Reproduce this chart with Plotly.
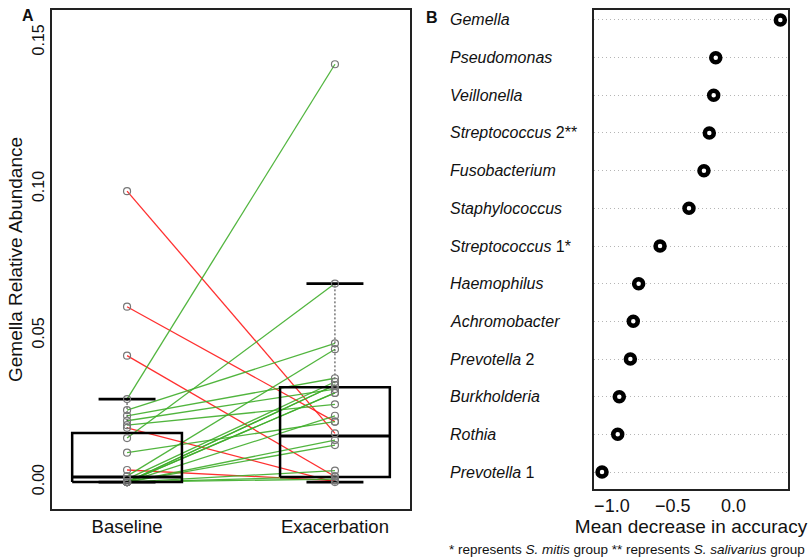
import plotly.graph_objects as go

# ---------------- Panel A data (paired samples) ----------------
groups = ["Baseline", "Exacerbation"]
baseline = [0.0992, 0.0598, 0.0431, 0.0185, 0.0041,
            0.0283, 0.0150, 0.0245, 0.0226, 0.0209, 0.0194, 0.0100,
            0.0020, 0.0010, 0.0, 0.0, 0.0, 0.0, 0.0, 0.0, 0.0, 0.0, 0.0, 0.0]
exacerbation = [0.0166, 0.0206, 0.0019, 0.0, 0.0005,
                0.1425, 0.0677, 0.0473, 0.0354, 0.0317, 0.0265, 0.0206,
                0.0453, 0.0342, 0.0331, 0.0304, 0.0226, 0.0143, 0.0126, 0.0039,
                0.0019, 0.0010, 0.0331, 0.0304]
# box statistics
box_q1 = [0.0, 0.0017]
box_med = [0.0017, 0.0157]
box_q3 = [0.0167, 0.0323]
whisk_lo = [0.0, 0.0]
whisk_hi = [0.0283, 0.0677]
a_yticks = [0.00, 0.05, 0.10, 0.15]

# ---------------- Panel B data ----------------
taxa = ["<i>Gemella</i>", "<i>Pseudomonas</i>", "<i>Veillonella</i>",
        "<i>Streptococcus</i> 2**", "<i>Fusobacterium</i>", "<i>Staphylococcus</i>",
        "<i>Streptococcus</i> 1*", "<i>Haemophilus</i>", "<i>Achromobacter</i>",
        "<i>Prevotella</i> 2", "<i>Burkholderia</i>", "<i>Rothia</i>", "<i>Prevotella</i> 1"]
mda = [0.385, -0.146, -0.163, -0.199, -0.243, -0.366, -0.604,
       -0.780, -0.824, -0.848, -0.939, -0.952, -1.081]
b_xticks = [-1.0, -0.5, 0.0]

FONT = "Liberation Sans, Arial, sans-serif"
GREEN = "#3fae2a"
RED = "#ff1a1a"
TXT = "#111111"

fig = go.Figure()

# paired lines
for b, e in zip(baseline, exacerbation):
    fig.add_trace(go.Scatter(
        x=[1, 2], y=[b, e], mode="lines",
        line=dict(color=RED if e < b else GREEN, width=1.3),
        opacity=0.9, showlegend=False, hoverinfo="skip",
        xaxis="x", yaxis="y"))

# boxes (R style)
half_box = 0.264
half_cap = 0.137
for i in range(2):
    xc = i + 1
    fig.add_trace(go.Scatter(
        x=[xc - half_box, xc + half_box, xc + half_box, xc - half_box, xc - half_box],
        y=[box_q1[i], box_q1[i], box_q3[i], box_q3[i], box_q1[i]],
        mode="lines", line=dict(color="black", width=2.5),
        showlegend=False, hoverinfo="skip", xaxis="x", yaxis="y"))
    fig.add_trace(go.Scatter(
        x=[xc - half_box, xc + half_box], y=[box_med[i], box_med[i]],
        mode="lines", line=dict(color="black", width=3),
        showlegend=False, hoverinfo="skip", xaxis="x", yaxis="y"))
    for y0, y1 in [(box_q3[i], whisk_hi[i]), (whisk_lo[i], box_q1[i])]:
        fig.add_trace(go.Scatter(
            x=[xc, xc], y=[y0, y1], mode="lines",
            line=dict(color="#333333", width=1, dash="2px,2px"),
            showlegend=False, hoverinfo="skip", xaxis="x", yaxis="y"))
    for yv in [whisk_hi[i], whisk_lo[i]]:
        fig.add_trace(go.Scatter(
            x=[xc - half_cap, xc + half_cap], y=[yv, yv], mode="lines",
            line=dict(color="black", width=2.8),
            showlegend=False, hoverinfo="skip", xaxis="x", yaxis="y"))

# points
fig.add_trace(go.Scatter(
    x=[1] * len(baseline) + [2] * len(exacerbation),
    y=baseline + exacerbation, mode="markers",
    marker=dict(symbol="circle-open", size=7, color="#777777", line=dict(width=1.2)),
    showlegend=False, hoverinfo="skip", xaxis="x", yaxis="y"))

# Panel B dot chart
fig.add_trace(go.Scatter(
    x=mda, y=list(range(len(taxa) - 1, -1, -1)), mode="markers",
    marker=dict(symbol="circle", size=9, color="white",
                line=dict(color="black", width=4.5)),
    showlegend=False, hoverinfo="skip", xaxis="x2", yaxis="y2"))

W, H = 809, 559
annotations = []
for i, t in enumerate(taxa):
    annotations.append(dict(
        text=t, x=448 / W, xref="paper", xanchor="left",
        y=len(taxa) - 1 - i, yref="y2", yanchor="middle",
        showarrow=False, font=dict(family=FONT, size=16, color=TXT)))
annotations += [
    dict(text="<b>A</b>", x=28 / W, y=1 - 16 / H, xref="paper", yref="paper",
         xanchor="center", yanchor="middle",
         showarrow=False, font=dict(family=FONT, size=16, color=TXT)),
    dict(text="<b>B</b>", x=432 / W, y=1 - 18 / H, xref="paper", yref="paper",
         xanchor="center", yanchor="middle",
         showarrow=False, font=dict(family=FONT, size=16, color=TXT)),
    dict(text="* represents <i>S. mitis</i> group ** represents <i>S. salivarius</i> group",
         x=807 / W, y=1 - 549 / H, xref="paper", yref="paper", xanchor="right",
         yanchor="middle", showarrow=False,
         font=dict(family=FONT, size=13.5, color=TXT)),
]

fig.update_layout(
    width=W, height=H, margin=dict(l=0, r=0, t=0, b=0),
    paper_bgcolor="white", plot_bgcolor="white",
    font=dict(family=FONT, color=TXT),
    xaxis=dict(domain=[52 / W, 410 / W], range=[0.639, 2.361],
               tickvals=[1, 2], ticktext=groups, showgrid=False, zeroline=False,
               showline=True, mirror=True, linecolor="#222222", linewidth=1.5,
               ticks="", tickfont=dict(size=18.5, family=FONT), anchor="y"),
    yaxis=dict(domain=[1 - 509 / H, 1 - 10 / H], range=[-0.0092, 0.161],
               tickvals=a_yticks, ticktext=[f"{v:.2f}" for v in a_yticks],
               tickangle=-90, showgrid=False, zeroline=False,
               showline=True, mirror=True, linecolor="#222222", linewidth=1.5,
               ticks="", tickfont=dict(size=16, family=FONT),
               title=dict(text="Gemella Relative Abundance", standoff=2,
                          font=dict(size=19, family=FONT)),
               anchor="x"),
    xaxis2=dict(domain=[594 / W, 788 / W], range=[-1.147, 0.448],
                tickvals=b_xticks, ticktext=["\u22121.0", "\u22120.5", "0.0"],
                showgrid=False, zeroline=False,
                showline=True, mirror=True, linecolor="#222222", linewidth=1.5,
                ticks="", tickfont=dict(size=18, family=FONT),
                title=dict(text="Mean decrease in accuracy", standoff=4,
                           font=dict(size=19, family=FONT)),
                anchor="y2"),
    yaxis2=dict(domain=[1 - 489 / H, 1 - 10 / H], range=[-0.451, 12.265],
                tickvals=list(range(len(taxa))), showticklabels=False,
                showgrid=True, gridcolor="#b5b5b5", griddash="1px,3px", gridwidth=1,
                zeroline=False, showline=True, mirror=True,
                linecolor="#222222", linewidth=1.5, ticks="", anchor="x2"),
    annotations=annotations,
)

fig.write_html("out.html")
